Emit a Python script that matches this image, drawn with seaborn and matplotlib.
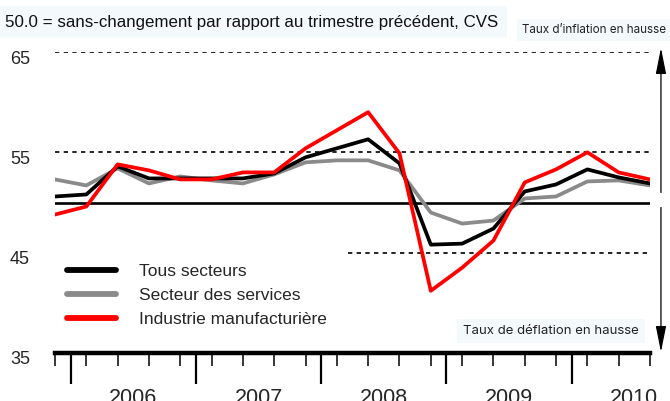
import numpy as np
import pandas as pd
import matplotlib
matplotlib.use("Agg")
import matplotlib.pyplot as plt
import matplotlib.transforms as mtransforms
from matplotlib.lines import Line2D
import seaborn as sns

# ---------------- data ----------------
quarters = ["2005T4",
            "2006T1", "2006T2", "2006T3", "2006T4",
            "2007T1", "2007T2", "2007T3", "2007T4",
            "2008T1", "2008T2", "2008T3", "2008T4",
            "2009T1", "2009T2", "2009T3", "2009T4",
            "2010T1", "2010T2", "2010T3"]
tous_secteurs = [50.6, 50.8, 53.6, 52.4, 52.4, 52.4, 52.4, 52.9, 54.5, 55.4,
                 56.3, 53.9, 45.8, 45.9, 47.4, 51.1, 51.8, 53.3, 52.5, 51.9]
services = [52.3, 51.7, 53.4, 51.9, 52.6, 52.2, 51.9, 52.8, 54.0, 54.2,
            54.2, 53.2, 49.0, 47.9, 48.2, 50.4, 50.6, 52.1, 52.2, 51.7]
manufacturier = [48.8, 49.6, 53.8, 53.2, 52.3, 52.3, 53.0, 53.0, 55.4, 57.2,
                 59.0, 54.9, 41.2, 43.5, 46.2, 52.0, 53.3, 55.0, 53.0, 52.3]
series_names = ["Tous secteurs", "Secteur des services", "Industrie manufacturière"]
years = ["2006", "2007", "2008", "2009", "2010"]
y_ticks = [35, 45, 55, 65]
neutral_level = 50
dotted_levels = [65, 55]
dotted_partial_level = 45

title_text = "50.0 = sans-changement par rapport au trimestre précédent, CVS"
inflation_text = "Taux d\u2019inflation en hausse"
deflation_text = "Taux de déflation en hausse"

# ---------------- style ----------------
sns.set_style("white")
REG = ["Liberation Sans", "DejaVu Sans"]
SMALL = ["Inter", "Open Sans", "DejaVu Sans"]
plt.rcParams["font.family"] = REG

colors = {"Tous secteurs": "#000000",
          "Secteur des services": "#8a8a8a",
          "Industrie manufacturière": "#ff0000"}

df = pd.DataFrame({
    "idx": list(range(len(quarters))) * 3,
    "trimestre": quarters * 3,
    "valeur": tous_secteurs + services + manufacturier,
    "serie": [series_names[0]] * len(quarters) + [series_names[1]] * len(quarters)
             + [series_names[2]] * len(quarters),
})

W, H = 670, 401
fig = plt.figure(figsize=(W / 100, H / 100), dpi=100)
ax_left, ax_right = 55, 650
ax_top, ax_bot = 52, 353
ax = fig.add_axes([ax_left / W, (H - ax_bot) / H,
                   (ax_right - ax_left) / W, (ax_bot - ax_top) / H])

n = len(quarters)
ax.set_xlim(0, n - 1)
ax.set_ylim(35, 65)

# reference lines
for lv in dotted_levels:
    ax.axhline(lv, color="black", lw=1.2, ls=(0, (2.6, 2.6)), zorder=1)
ax.hlines(dotted_partial_level, 9.35, n - 1, color="black", lw=1.2,
          ls=(0, (2.6, 2.6)), zorder=1)
ax.axhline(neutral_level, color="black", lw=1.9, zorder=2)

# series (drawn: services, tous, manufacturier so red on top)
draw_order = ["Secteur des services", "Tous secteurs", "Industrie manufacturière"]
for name in draw_order:
    sub = df[df["serie"] == name]
    sns.lineplot(data=sub, x="idx", y="valeur", color=colors[name], lw=2.7,
                 ax=ax, zorder=3, legend=False)

# axes styling
for s in ["top", "left", "right"]:
    ax.spines[s].set_visible(False)
ax.spines["bottom"].set_linewidth(3.2)
ax.spines["bottom"].set_color("black")
ax.set_xlabel("")
ax.set_ylabel("")

ax.set_xticks(range(n))
ax.set_xticklabels([""] * n)
ax.set_xticks([0.5 + 4 * k for k in range(len(years))], minor=True)
ax.tick_params(axis="x", which="major", direction="out", length=9.5, width=1.1,
               color="black", bottom=True)
ax.tick_params(axis="x", which="minor", direction="out", length=22, width=1.6,
               color="black", bottom=True)

ax.set_yticks(y_ticks)
ax.set_yticklabels([str(v) for v in y_ticks])
ax.tick_params(axis="y", length=0, pad=18, labelsize=13, left=True)
off = mtransforms.ScaledTranslation(0, -5 / 100, fig.dpi_scale_trans)
for lab in ax.get_yticklabels():
    lab.set_transform(lab.get_transform() + off)

# year labels
ytrans = mtransforms.blended_transform_factory(ax.transData, ax.transAxes)
for k, yr in enumerate(years):
    ax.text(2.5 + 4 * k, -0.115, yr, transform=ytrans, ha="center", va="top",
            fontsize=15.5, clip_on=False)

# legend
handles = [Line2D([], [], color=colors[nm], lw=4.2) for nm in series_names]
fig.legend(handles, series_names, loc="upper left",
           bbox_to_anchor=(67 / W, (H - 264) / H), frameon=False,
           prop={"size": 12.5}, handlelength=2.8,
           handletextpad=1.35, labelspacing=0.5, borderpad=0, borderaxespad=0)

# arrows
for tip, tail in [(65.4, 51.0), (35.1, 49.5)]:
    ax.annotate("", xy=(19.35, tip), xytext=(19.35, tail), xycoords="data",
                arrowprops=dict(arrowstyle="-|>,head_length=1.6,head_width=0.32",
                                color="black", lw=0.9, shrinkA=0, shrinkB=0),
                annotation_clip=False)

# texts
box = dict(boxstyle="square,pad=0.45", facecolor="#f4f9fc", edgecolor="none")
fig.text(5 / W, (H - 22) / H, title_text, ha="left", va="center",
         fontsize=12.2, color="#111111",
         bbox=dict(boxstyle="square,pad=0.5", facecolor="#f4f9fc", edgecolor="none"))
fig.text(666 / W, (H - 30) / H, inflation_text, ha="right", va="center",
         fontsize=8.4, family=SMALL, color="#222222", bbox=box)
fig.text(463 / W, (H - 331) / H, deflation_text, ha="left", va="center",
         fontsize=9.5, family=SMALL, color="#222222", bbox=box)

fig.savefig("out.png", dpi=100, facecolor="white")
